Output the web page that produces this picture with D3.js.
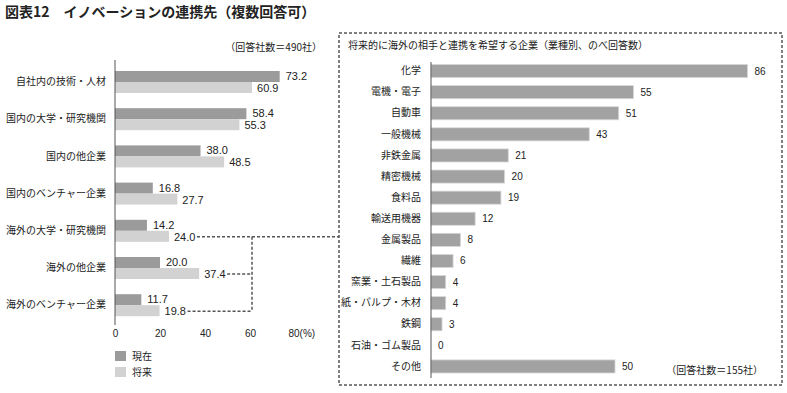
<!DOCTYPE html>
<html>
<head>
<meta charset="utf-8">
<script src="https://cdn.jsdelivr.net/npm/d3@7"></script>
<style>
  body { margin: 0; background: #fff; }
  svg text { fill: #222; }
</style>
</head>
<body>
<svg id="chart"></svg>
<script>
// left chart data
const partnerTypes = ["自社内の技術・人材", "国内の大学・研究機関", "国内の他企業", "国内のベンチャー企業",
    "海外の大学・研究機関", "海外の他企業", "海外のベンチャー企業"];
const nowValues = [73.2, 58.4, 38.0, 16.8, 14.2, 20.0, 11.7];
const futureValues = [60.9, 55.3, 48.5, 27.7, 24.0, 37.4, 19.8];
const pctTicks = [0, 20, 40, 60, 80];
const legendLabels = ["現在", "将来"];

// right chart data
const industries = ["化学", "電機・電子", "自動車", "一般機械", "非鉄金属", "精密機械", "食料品", "輸送用機器",
    "金属製品", "繊維", "窯業・土石製品", "紙・パルプ・木材", "鉄鋼", "石油・ゴム製品", "その他"];
const industryCounts = [86, 55, 51, 43, 21, 20, 19, 12, 8, 6, 4, 4, 3, 0, 50];

const width = 787;
const height = 393;
const jp = "'Noto Sans CJK JP', sans-serif";
const num = "'Liberation Sans Narrow', 'Liberation Sans', 'Noto Sans CJK JP', sans-serif";
const darkGray = "#9b9b9b";
const lightGray = "#d2d2d2";

const svg = d3.select("#chart")
    .attr("width", width)
    .attr("height", height)
    .attr("viewBox", [0, 0, width, height]);

// title
svg.append("text")
    .attr("x", 5).attr("y", 17)
    .attr("font-family", jp)
    .attr("font-size", 14)
    .attr("font-weight", "bold")
    .text("図表12　イノベーションの連携先（複数回答可）");

svg.append("text")
    .attr("x", 322).attr("y", 51)
    .attr("text-anchor", "end")
    .attr("font-family", jp)
    .attr("font-size", 10)
    .text("（回答社数＝490社）");

// ---- left chart ----
const xL = d3.scaleLinear().domain([0, 80]).range([115, 295]);
const yL = d3.scaleBand().domain(partnerTypes).range([63.4, 323.8]);
const barH = 11;

const left = svg.append("g");

left.append("g")
    .selectAll("rect")
    .data(partnerTypes)
    .join("rect")
    .attr("x", xL(0))
    .attr("y", d => yL(d) + yL.bandwidth() / 2 - barH)
    .attr("width", (d, i) => xL(nowValues[i]) - xL(0))
    .attr("height", barH)
    .attr("fill", darkGray);

left.append("g")
    .selectAll("rect")
    .data(partnerTypes)
    .join("rect")
    .attr("x", xL(0))
    .attr("y", d => yL(d) + yL.bandwidth() / 2)
    .attr("width", (d, i) => xL(futureValues[i]) - xL(0))
    .attr("height", barH)
    .attr("fill", lightGray);

// value labels
left.append("g")
    .attr("font-family", num)
    .attr("font-size", 11)
    .selectAll("text")
    .data(partnerTypes)
    .join("text")
    .attr("x", (d, i) => xL(nowValues[i]) + 6)
    .attr("y", d => yL(d) + yL.bandwidth() / 2 - 2)
    .text((d, i) => nowValues[i].toFixed(1));

left.append("g")
    .attr("font-family", num)
    .attr("font-size", 11)
    .selectAll("text")
    .data(partnerTypes)
    .join("text")
    .attr("x", (d, i) => xL(futureValues[i]) + 5)
    .attr("y", d => yL(d) + yL.bandwidth() / 2 + 10)
    .text((d, i) => futureValues[i].toFixed(1));

// y axis (line + labels)
const yAxisL = left.append("g")
    .attr("transform", `translate(${xL(0)},0)`)
    .call(d3.axisLeft(yL).tickSize(0).tickPadding(9));
yAxisL.select(".domain").attr("d", `M0,60V325`).attr("stroke", "#555");
yAxisL.selectAll("text")
    .attr("font-family", jp)
    .attr("font-size", 10)
    .attr("fill", "#222");

// x axis labels only
const xAxisL = left.append("g")
    .attr("transform", "translate(0,330)")
    .call(d3.axisBottom(xL).tickValues(pctTicks).tickSize(0).tickPadding(0)
        .tickFormat(d => d === 80 ? "80(%)" : d));
xAxisL.select(".domain").remove();
xAxisL.selectAll("text")
    .attr("font-family", num)
    .attr("font-size", 10)
    .attr("fill", "#222")
    .attr("text-anchor", d => d === 80 ? "start" : "middle")
    .attr("dx", d => d === 80 ? -7 : 0);

// legend
const legend = left.append("g")
    .attr("transform", `translate(${xL(0)},351)`);
legendLabels.forEach((lab, i) => {
    legend.append("rect")
        .attr("x", 0).attr("y", i * 16)
        .attr("width", 11).attr("height", 10)
        .attr("fill", i === 0 ? darkGray : lightGray);
    legend.append("text")
        .attr("x", 17).attr("y", i * 16 + 9)
        .attr("font-family", jp)
        .attr("font-size", 10)
        .text(lab);
});

// dashed connectors from overseas rows to the box
const connector = svg.append("g")
    .attr("stroke", "#555")
    .attr("stroke-width", 1.5)
    .attr("stroke-dasharray", "3,2")
    .attr("fill", "none");
const vx = xL(60) + 2;
const yFut = i => yL(partnerTypes[i]) + yL.bandwidth() / 2 + barH / 2 + 0.5;
connector.append("line")
    .attr("x1", xL(futureValues[4]) + 28).attr("x2", 339)
    .attr("y1", yFut(4)).attr("y2", yFut(4));
connector.append("line")
    .attr("x1", xL(futureValues[5]) + 28).attr("x2", vx)
    .attr("y1", yFut(5)).attr("y2", yFut(5));
connector.append("line")
    .attr("x1", xL(futureValues[6]) + 28).attr("x2", vx)
    .attr("y1", yFut(6)).attr("y2", yFut(6));
connector.append("line")
    .attr("x1", vx).attr("x2", vx)
    .attr("y1", yFut(4)).attr("y2", yFut(6));

// ---- right chart ----
svg.append("rect")
    .attr("x", 339).attr("y", 33)
    .attr("width", 443).attr("height", 352)
    .attr("fill", "none")
    .attr("stroke", "#555")
    .attr("stroke-width", 1.5)
    .attr("stroke-dasharray", "3,2");

svg.append("text")
    .attr("x", 348).attr("y", 49)
    .attr("font-family", jp)
    .attr("font-size", 10)
    .text("将来的に海外の相手と連携を希望する企業（業種別、のべ回答数）");

const xR = d3.scaleLinear().domain([0, 86]).range([431, 747.5]);
const yR = d3.scaleBand().domain(industries).range([60.5, 377]).paddingInner(0.38).paddingOuter(0.19);

const right = svg.append("g");

right.append("g")
    .selectAll("rect")
    .data(industries)
    .join("rect")
    .attr("x", xR(0))
    .attr("y", d => yR(d))
    .attr("width", (d, i) => xR(industryCounts[i]) - xR(0))
    .attr("height", yR.bandwidth())
    .attr("fill", "#a2a2a2")
    .attr("stroke", "#d8d8d8")
    .attr("stroke-width", 0.8);

right.append("g")
    .attr("font-family", num)
    .attr("font-size", 10)
    .selectAll("text")
    .data(industries)
    .join("text")
    .attr("x", (d, i) => xR(industryCounts[i]) + 7)
    .attr("y", d => yR(d) + yR.bandwidth() / 2 + 3.5)
    .text((d, i) => industryCounts[i]);

const yAxisR = right.append("g")
    .attr("transform", `translate(${xR(0)},0)`)
    .call(d3.axisLeft(yR).tickSize(0).tickPadding(10));
yAxisR.select(".domain").attr("d", "M0,62V378").attr("stroke", "#555");
yAxisR.selectAll("text")
    .attr("font-family", jp)
    .attr("font-size", 10)
    .attr("fill", "#222");

svg.append("text")
    .attr("x", 763).attr("y", 374)
    .attr("text-anchor", "end")
    .attr("font-family", jp)
    .attr("font-size", 10)
    .text("（回答社数＝155社）");
</script>
</body>
</html>
